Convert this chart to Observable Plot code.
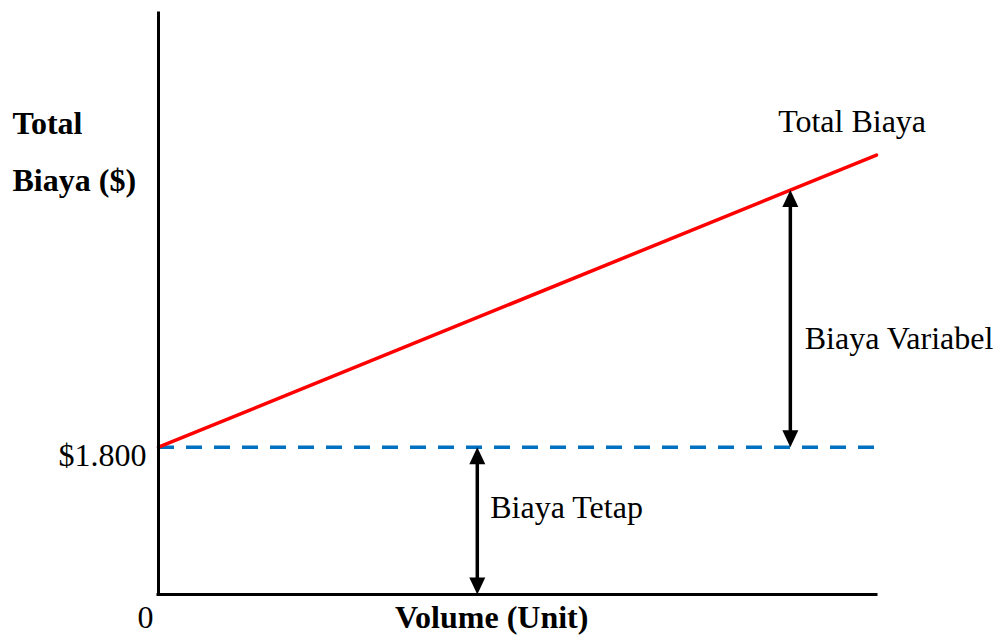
<!DOCTYPE html>
<html>
<head>
<meta charset="utf-8">
<script src="https://cdn.jsdelivr.net/npm/d3@7"></script>
<script src="https://cdn.jsdelivr.net/npm/@observablehq/plot@0.6"></script>
<style>
  html, body { margin: 0; padding: 0; background: #fff; }
  #chart svg { display: block; }
</style>
</head>
<body>
<div id="chart"></div>
<script>
// ---- data ----
const volume = [0, 100];                 // volume units (x)
const totalCost = [1800, 5370];          // total cost at volume 0 and 100
const fixedCost = 1800;                  // fixed cost level
const variableArrowVolume = 88;          // where the "Biaya Variabel" arrow sits
const variableArrowTop = 4942;           // total cost at that volume
const fixedArrowVolume = 44.4;           // where the "Biaya Tetap" arrow sits
const yLabelLines = ["Total", "Biaya ($)"];
const xLabel = "Volume (Unit)";
const tickLabels = ["$1.800", "0"];
const annotations = ["Total Biaya", "Biaya Variabel", "Biaya Tetap"];

const lineData = volume.map((v, i) => ({volume: v, cost: totalCost[i]}));

// filled arrowhead, tip at origin, pointing up
const head = {
  draw(ctx) {
    ctx.moveTo(0, 0);
    ctx.lineTo(-8, 17);
    ctx.lineTo(8, 17);
    ctx.closePath();
  }
};

const font = "'Liberation Serif', 'Times New Roman', serif";
const fs = 32;

const chart = Plot.plot({
  width: 998,
  height: 635,
  marginLeft: 158,
  marginRight: 122,
  marginTop: 13,
  marginBottom: 41,
  x: {domain: [0, 100], axis: null},
  y: {domain: [0, 7100], axis: null},
  style: {fontFamily: font, background: "#fff", overflow: "visible"},
  marks: [
    // fixed cost dashed line
    Plot.ruleY([fixedCost], {x1: volume[0], x2: volume[1], stroke: "#0070C0", strokeWidth: 3.5, strokeDasharray: "16,12"}),
    // total cost line
    Plot.line(lineData, {x: "volume", y: "cost", stroke: "#FF0000", strokeWidth: 3.5}),
    // axes
    Plot.ruleX([0], {y1: 7100, y2: 0, stroke: "black", strokeWidth: 3, strokeLinecap: "square"}),
    Plot.ruleY([0], {x1: 0, x2: 100, stroke: "black", strokeWidth: 3, strokeLinecap: "square"}),
    // variable cost double arrow
    Plot.ruleX([variableArrowVolume], {y1: variableArrowTop, y2: fixedCost, stroke: "black", strokeWidth: 3.5, insetTop: 12, insetBottom: 12}),
    Plot.dot([{v: variableArrowVolume, c: variableArrowTop}], {x: "v", y: "c", symbol: head, fill: "black", stroke: "none"}),
    Plot.dot([{v: variableArrowVolume, c: fixedCost}], {x: "v", y: "c", symbol: head, rotate: 180, fill: "black", stroke: "none"}),
    // fixed cost double arrow
    Plot.ruleX([fixedArrowVolume], {y1: fixedCost, y2: 0, stroke: "black", strokeWidth: 3.5, insetTop: 12, insetBottom: 12}),
    Plot.dot([{v: fixedArrowVolume, c: fixedCost}], {x: "v", y: "c", symbol: head, fill: "black", stroke: "none"}),
    Plot.dot([{v: fixedArrowVolume, c: 0}], {x: "v", y: "c", symbol: head, rotate: 180, fill: "black", stroke: "none"}),
    // annotations
    Plot.text([annotations[0]], {x: 86.3, y: 5650, text: d => d, textAnchor: "start", lineAnchor: "bottom", fontSize: fs, fill: "black"}),
    Plot.text([annotations[1]], {x: 90.0, y: 2994, text: d => d, textAnchor: "start", lineAnchor: "bottom", fontSize: fs, fill: "black"}),
    Plot.text([annotations[2]], {x: 46.2, y: 930, text: d => d, textAnchor: "start", lineAnchor: "bottom", fontSize: fs, fill: "black"}),
    // tick labels
    Plot.text([tickLabels[0]], {x: 0, y: fixedCost, text: d => d, textAnchor: "end", lineAnchor: "bottom", dx: -12, dy: 19, fontSize: fs, fill: "black"}),
    Plot.text([tickLabels[1]], {x: 0, y: 0, text: d => d, textAnchor: "middle", lineAnchor: "bottom", dx: -13, dy: 33, fontSize: fs, fill: "black"}),
    // axis titles
    Plot.text([xLabel], {x: 46.4, y: 0, text: d => d, textAnchor: "middle", lineAnchor: "bottom", dy: 33, fontSize: fs, fontWeight: "bold", fill: "black"}),
    Plot.text([yLabelLines[0]], {x: 0, y: 5633, text: d => d, textAnchor: "start", lineAnchor: "bottom", dx: -146, fontSize: fs, fontWeight: "bold", fill: "black"}),
    Plot.text([yLabelLines[1]], {x: 0, y: 4937, text: d => d, textAnchor: "start", lineAnchor: "bottom", dx: -146, fontSize: fs, fontWeight: "bold", fill: "black"})
  ]
});

document.getElementById("chart").appendChild(chart);
</script>
</body>
</html>
